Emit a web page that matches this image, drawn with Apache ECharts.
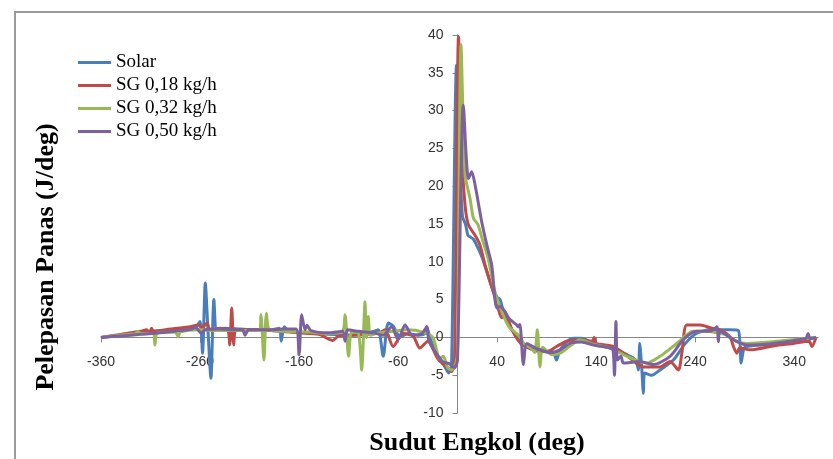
<!DOCTYPE html>
<html>
<head>
<meta charset="utf-8">
<script src="https://cdn.jsdelivr.net/npm/echarts@6/dist/echarts.min.js"></script>
<style>
html,body{margin:0;padding:0;background:#fff;}
#chart{width:833px;height:459px;}
</style>
</head>
<body>
<div id="chart"></div>
<script>
const seriesNames = ['Solar', 'SG 0,18 kg/h', 'SG 0,32 kg/h', 'SG 0,50 kg/h'];
const xTicks = [-360, -260, -160, -60, 40, 140, 240, 340];

const solar = [[-360,0],[-340,0.3],[-320,0.6],[-300,0.9],[-280,1.1],[-265,1.3],[-260,2.1],[-257.5,-2.1],[-254.7,7.2],[-252,1],[-249,-5.4],[-246,5],[-243,1],[-235,1.2],[-220,1.1],[-205,1],[-190,1],[-180,1.2],[-178,-0.5],[-175,1.4],[-170,0.8],[-150,0.6],[-130,0.4],[-110,0.3],[-95,0.5],[-85,0.8],[-80,1],[-75,-2.5],[-70,1.9],[-65,1.5],[-58,0.1],[-50,0.5],[-40,0.3],[-33,0.5],[-31,1.4],[-28,0],[-20,-2.5],[-14,-3.6],[-9,-4.7],[-6,-3.5],[-1,36],[2,24],[5,16],[8,15],[10.5,13.5],[12.6,13.3],[16,13],[20,12],[25,10.5],[30,8.5],[35,6.5],[40,5.3],[43,5],[46,3.6],[50,2.5],[55,1],[60,0],[65,-1],[70,-1.2],[80,-1.5],[90,-1.8],[97,-2],[100,-3],[103,-1.8],[110,-0.6],[117,-0.1],[125,-0.1],[137,-0.8],[154,-1.4],[170,-2.2],[180,-3],[182.6,-4.3],[184,-0.8],[186,-4],[187.7,-7.4],[189,-4.7],[196,-5],[204.5,-4.3],[218,-3],[230,-0.8],[241.6,0.55],[255,1],[265,1],[275,1],[283.6,0.9],[286.4,-3.4],[289,-1.5],[292,-1.2],[305,-1],[322,-0.8],[340,-0.4],[353,-0.1],[362,0]];

const sg018 = [[-360,0],[-340,0.4],[-320,0.8],[-314,1],[-311,0.6],[-309,1.2],[-307,0.8],[-290,1.1],[-270,1.4],[-262,1.65],[-258,1.3],[-253,1.9],[-250,1],[-240,1.2],[-232,1],[-230,-1],[-228,3.9],[-226,-1],[-224,0.9],[-215,1],[-200,1],[-180,0.8],[-160,0.6],[-140,0.4],[-126,-0.4],[-120,0.2],[-100,0.3],[-85,0.5],[-78,0.7],[-73,1],[-65,-1.2],[-55,0.5],[-45,0.2],[-38,-1.4],[-30,-0.5],[-20,-2.8],[-12,-3.8],[-6,-4.5],[-3,-3],[1,39.8],[4,25],[7.6,17.5],[11,14.9],[17.7,13.5],[22.7,12.2],[28,9.5],[35,6.5],[41,3.9],[44.6,2.6],[48,3],[55,1],[62,-0.5],[70,-1.3],[80,-1.8],[90,-1.9],[100,-1.2],[110,-0.5],[125,-0.3],[136,-0.5],[138,0],[140,-0.8],[157,-1.2],[170,-2.3],[187.7,-3.9],[204.5,-3.9],[214.6,-3.2],[223,-4.3],[226.5,-2.1],[231.5,1.65],[245,1.65],[256.8,1.2],[265,1],[275,0.1],[278.6,-1.2],[282,-2.1],[285,-1.4],[295.5,-1.65],[320,-1.1],[339,-0.8],[355,-0.5],[357.8,-1.2],[362,0]];

const sg032 = [[-360,0],[-340,0.3],[-325,0.5],[-323,0.8],[-320,0.5],[-307,0.5],[-305.6,-1],[-303,0.6],[-285,0.7],[-282,0.1],[-280,0.7],[-260,1],[-240,0.9],[-220,0.9],[-200,1],[-198.5,3],[-195.5,-3],[-193,3.2],[-190,1],[-175,0.8],[-150,0.7],[-130,0.5],[-116,0.8],[-113.6,3],[-110,-2.5],[-107,0.7],[-100,0.5],[-96.8,-4.3],[-93.4,4.7],[-92,0],[-90,2.75],[-88,0.3],[-80,0.6],[-65,0.8],[-50,1],[-35,0.7],[-25,0],[-18,-2.8],[-14.3,-2.5],[-10,-4],[-6,-4.3],[-2,-3.5],[0,-2],[3.5,38.7],[7.6,21.5],[12.6,18.4],[16,15.8],[20.7,14.9],[25,13],[30.8,10.5],[37.9,6],[46,3],[52,1.4],[58,0.7],[63,0.1],[67,-0.8],[75,-1.5],[78,-2],[80.6,1],[83.3,-3.9],[86,-1.3],[95,-2.3],[103.5,-2.1],[115,-1],[123.6,-0.3],[137,-0.9],[154,-1.4],[171,-2.5],[191,-3.4],[204.5,-2.5],[221.4,-0.8],[238,0.8],[251,0.8],[262,0.6],[272,0.3],[282,-0.55],[292,-0.8],[320,-0.55],[345,-0.2],[362,0]];

const sg050 = [[-360,0],[-340,0.2],[-320,0.4],[-300,0.6],[-280,0.9],[-268,1.1],[-265,1.4],[-262,1],[-258.5,0.55],[-255,1],[-240,1.1],[-225,1],[-217,1],[-214.6,0.3],[-211,1],[-190,1],[-175,1.1],[-163,1.1],[-160,-2.3],[-157.4,3],[-154,1],[-152,1.6],[-148,0.9],[-130,0.6],[-116,0.8],[-113.6,-0.5],[-111,1],[-100,0.8],[-85,0.6],[-75,0.3],[-66.5,1.4],[-60,-0.3],[-53,1.65],[-46,0.3],[-36,0.5],[-31,1.4],[-29,-0.4],[-22,-2],[-15,-3.2],[-8,-3.5],[-3,-4],[0,-3],[5.9,30.7],[11,21],[14.3,21.9],[17.7,20.2],[24.4,15.3],[30,12],[34.5,9.6],[39.6,3.9],[43,4.1],[48,3.4],[52,2.5],[59.8,1.65],[61.4,1.4],[63,1.7],[66.5,-3.6],[70,-0.8],[80,-1.5],[95,-2],[103.5,-1.65],[115,-0.7],[125,-0.6],[137,-1],[154,-1.4],[157,-1.6],[158.5,-5],[160,2.1],[161.5,-3],[165,-2.5],[167.5,-3.4],[184,-3.2],[197.8,-3.6],[214.6,-2.5],[228,-0.3],[241.6,0.8],[255,0.8],[261.8,1.4],[263.4,-0.55],[265,0.8],[278.6,-0.3],[292,-1],[319,-0.8],[345,-0.3],[352,-0.1],[354,0.5],[356,-0.2],[362,0]];

const colors = ['#4A7EBB', '#BE4B48', '#98B954', '#7D60A0'];
const dataSets = [solar, sg018, sg032, sg050];

const gridLeft = 101, gridRight = 15, gridTop = 35, gridBottom = 46;
const W = 833, H = 459;
const xMin = -360, xMax = 364, yMin = -10, yMax = 40;
const plotW = W - gridLeft - gridRight, plotH = H - gridTop - gridBottom;
const yAxisOffset = -((0 - xMin) / (xMax - xMin)) * plotW;
const xAxisOffset = -((0 - yMin) / (yMax - yMin)) * plotH;

const chart = echarts.init(document.getElementById('chart'), null, {renderer: 'canvas'});
chart.setOption({
  animation: false,
  backgroundColor: '#fff',
  color: colors,
  grid: {left: gridLeft, right: gridRight, top: gridTop, bottom: gridBottom, containLabel: false},
  legend: {
    orient: 'vertical', left: 78, top: 53, padding: 0,
    icon: 'rect', itemWidth: 33, itemHeight: 3, itemGap: 4,
    textStyle: {fontFamily: 'Liberation Serif', fontSize: 19, color: '#000', lineHeight: 19},
    data: seriesNames
  },
  xAxis: {
    type: 'value', min: xMin, max: xMax, position: 'bottom', offset: xAxisOffset,
    axisLine: {onZero: false, lineStyle: {color: '#868686', width: 1}},
    axisTick: {show: true, length: 5, lineStyle: {color: '#868686'}, customValues: xTicks},
    axisLabel: {customValues: xTicks, margin: 18, fontFamily: 'Liberation Sans', fontSize: 14, color: '#333'},
    splitLine: {show: false}
  },
  yAxis: {
    type: 'value', min: yMin, max: yMax, interval: 5, position: 'left', offset: yAxisOffset,
    axisLine: {show: true, onZero: false, lineStyle: {color: '#868686', width: 1}},
    axisTick: {show: true, length: 5, lineStyle: {color: '#868686'}},
    axisLabel: {margin: 14, fontFamily: 'Liberation Sans', fontSize: 14, color: '#333'},
    splitLine: {show: false}
  },
  series: dataSets.map((d, i) => ({
    name: seriesNames[i], type: 'line', data: d,
    symbol: 'none', smooth: 0.25,
    lineStyle: {width: 3, color: colors[i]}
  })),
  graphic: [
    {type: 'polyline', silent: true, shape: {points: [[15, 459], [15, 12], [833, 12]]}, style: {stroke: '#9a9a9a', lineWidth: 2, fill: null}},
    {type: 'text', x: 46, y: 257, rotation: Math.PI / 2, style: {text: 'Pelepasan Panas (J/deg)', font: 'bold 26px "Liberation Serif"', fill: '#000', align: 'center', verticalAlign: 'middle'}},
    {type: 'text', x: 477, y: 443, style: {text: 'Sudut Engkol (deg)', font: 'bold 26px "Liberation Serif"', fill: '#000', align: 'center', verticalAlign: 'middle'}}
  ]
});
</script>
</body>
</html>
